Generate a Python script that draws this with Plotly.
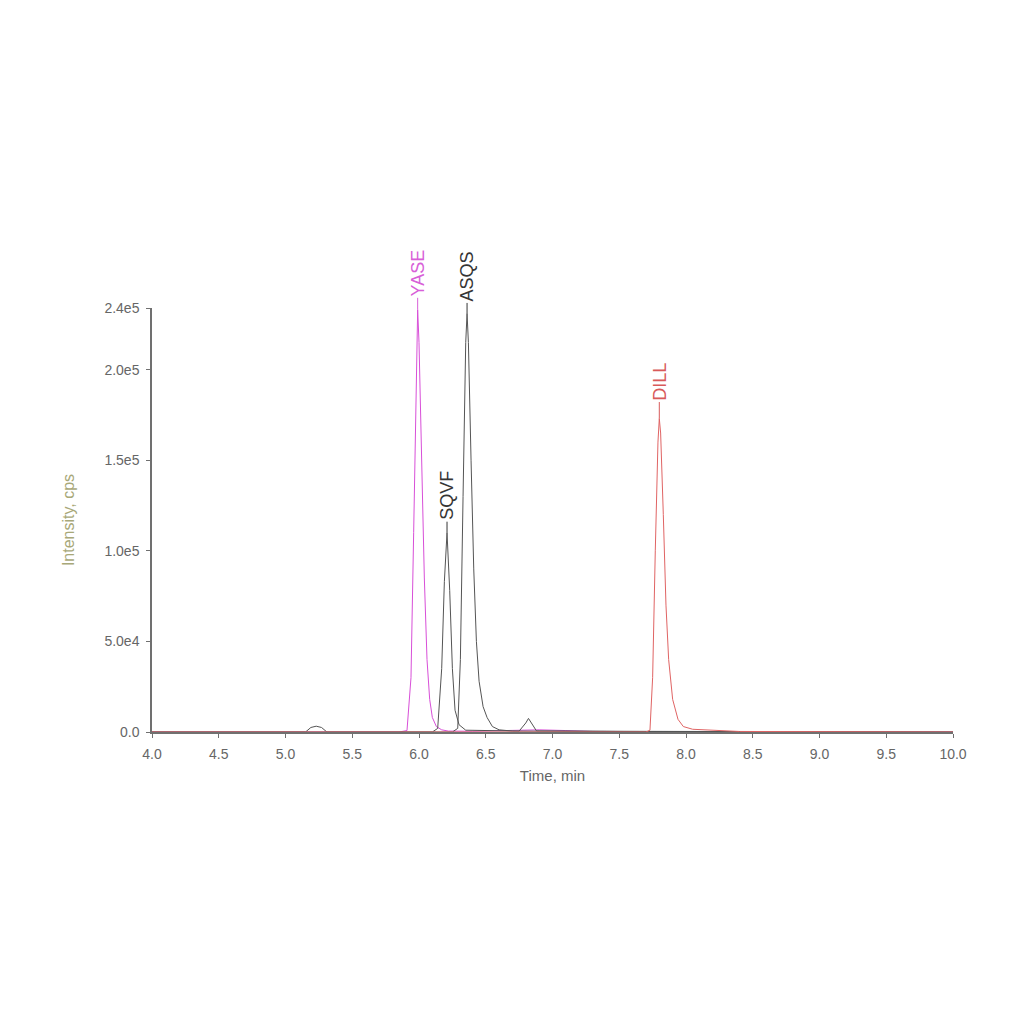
import plotly.graph_objects as go

# Chromatogram traces (time in min, intensity in cps)
yase_t = [4.0, 5.85, 5.91, 5.94, 5.96, 5.98, 5.99, 6.00, 6.02, 6.04, 6.06, 6.08, 6.10, 6.13,
          6.17, 6.22, 6.40, 6.70, 6.90, 7.10, 7.30, 10.0]
yase_i = [0, 0, 800, 30000, 110000, 205000, 233000, 215000, 150000, 85000, 40000, 18000, 8000,
          3000, 1200, 500, 400, 900, 1200, 800, 300, 0]

sqvf_t = [4.0, 5.15, 5.19, 5.23, 5.27, 5.31, 6.10, 6.14, 6.17, 6.19, 6.21, 6.23, 6.25, 6.27,
          6.30, 6.35, 6.75, 6.80, 6.82, 6.84, 6.88, 7.5, 10.0]
sqvf_i = [0, 0, 2500, 3200, 2500, 0, 0, 2000, 35000, 83000, 110000, 78000, 35000, 12000,
          4000, 1000, 500, 5000, 7500, 5000, 600, 300, 0]

asqs_t = [4.0, 6.25, 6.29, 6.31, 6.33, 6.35, 6.36, 6.37, 6.39, 6.41, 6.43, 6.45, 6.48, 6.51,
          6.55, 6.60, 6.70, 7.60, 7.75, 10.0]
asqs_i = [0, 0, 2000, 40000, 130000, 215000, 231000, 215000, 150000, 90000, 50000, 28000,
          14000, 8000, 3000, 1200, 500, 400, 600, 0]

dill_t = [4.0, 7.70, 7.73, 7.75, 7.77, 7.79, 7.80, 7.81, 7.83, 7.85, 7.87, 7.90, 7.94, 7.98,
          8.05, 8.20, 8.40, 10.0]
dill_i = [0, 0, 1000, 30000, 100000, 160000, 173000, 165000, 120000, 70000, 40000, 18000,
          7000, 3000, 1500, 1000, 300, 0]

peak_names = ["YASE", "SQVF", "ASQS", "DILL"]
peak_t = [5.99, 6.21, 6.36, 7.80]
peak_i = [233000, 110000, 231000, 173000]
peak_colors = ["#d860d8", "#353535", "#353535", "#d85a5a"]

marker_t = [3.98]
marker_i = [9500]

y_tickvals = [0, 50000, 100000, 150000, 200000, 234000]
y_ticktext = ["0.0", "5.0e4", "1.0e5", "1.5e5", "2.0e5", "2.4e5"]
x_tickvals = [4.0, 4.5, 5.0, 5.5, 6.0, 6.5, 7.0, 7.5, 8.0, 8.5, 9.0, 9.5, 10.0]

fig = go.Figure()

traces = [
    (yase_t, yase_i, "#d84fd8"),
    (sqvf_t, sqvf_i, "#555555"),
    (asqs_t, asqs_i, "#555555"),
    (dill_t, dill_i, "#e06464"),
]
for t, i, c in traces:
    fig.add_trace(go.Scatter(x=t, y=i, mode='lines', line=dict(color=c, width=1),
                             hoverinfo='skip', showlegend=False))

# little blue marker at the start of the run
fig.add_trace(go.Scatter(x=marker_t, y=marker_i, mode='markers', cliponaxis=False,
                         marker=dict(symbol='triangle-right', size=9, color='#1c1c8a'),
                         showlegend=False))

# peak labels
for name, t, i, c in zip(peak_names, peak_t, peak_i, peak_colors):
    fig.add_annotation(x=t, y=i, text=name, textangle=-90, showarrow=True,
                       arrowhead=0, arrowwidth=1, arrowcolor=c, ax=0, ay=-37,
                       standoff=0, font=dict(size=18, color=c))

fig.update_layout(
    width=1024, height=1024,
    paper_bgcolor='white', plot_bgcolor='white',
    margin=dict(l=144, r=79, t=300, b=300),
    font=dict(family='Liberation Sans, Arial', size=14, color='#666666'),
    xaxis=dict(range=[4.0, 10.0], tickvals=x_tickvals, tickformat='.1f',
               showgrid=False, zeroline=False, showline=True, linecolor='#707070',
               linewidth=1.5, ticks='outside', ticklen=4, tickcolor='#707070',
               ticklabelstandoff=4,
               title=dict(text='Time, min', font=dict(size=15, color='#666666'), standoff=10)),
    yaxis=dict(range=[0, 234000], tickvals=y_tickvals, ticktext=y_ticktext,
               showgrid=False, zeroline=False, showline=True, linecolor='#707070',
               linewidth=1.5, ticks='outside', ticklen=4, tickcolor='#707070',
               ticklabelstandoff=4,
               title=dict(text='Intensity, cps', font=dict(size=16, color='#a8a878'), standoff=26)),
)

fig.write_html("out.html")
